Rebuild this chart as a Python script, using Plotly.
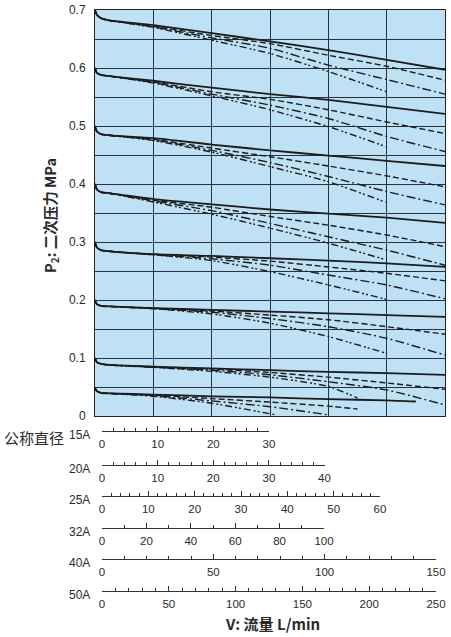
import plotly.graph_objects as go

# ---------------- data ----------------
# main-plot horizontal position in grid units (6 grid columns, no numeric labels)
FLOW_HEAD = [0, 0.03, 0.1, 0.25]
BODY_TO6 = [1, 2, 3, 4, 5, 6]
BODY_TO5 = [1, 2, 3, 4, 5]

# P2 set 0.7 MPa
P070_SOLID = [0.700, 0.692, 0.686, 0.682, 0.674, 0.660, 0.646, 0.631, 0.614, 0.597]
P070_DASH = [0.700, 0.692, 0.686, 0.682, 0.672, 0.656, 0.642, 0.622, 0.603, 0.579]
P070_DASHDOT = [0.700, 0.692, 0.686, 0.682, 0.671, 0.652, 0.634, 0.605, 0.580, 0.555]
P070_DDOT = [0.700, 0.692, 0.686, 0.682, 0.670, 0.648, 0.625, 0.594, 0.559]
# 0.6
P060_SOLID = [0.600, 0.592, 0.588, 0.586, 0.578, 0.566, 0.555, 0.545, 0.533, 0.521]
P060_DASH = [0.600, 0.592, 0.588, 0.586, 0.576, 0.559, 0.546, 0.528, 0.507, 0.487]
P060_DASHDOT = [0.600, 0.592, 0.588, 0.586, 0.575, 0.555, 0.536, 0.513, 0.482, 0.456]
P060_DDOT = [0.600, 0.592, 0.588, 0.586, 0.574, 0.552, 0.528, 0.499, 0.464]
# 0.5
P050_SOLID = [0.500, 0.491, 0.486, 0.484, 0.479, 0.468, 0.458, 0.449, 0.440, 0.431]
P050_DASH = [0.500, 0.491, 0.486, 0.484, 0.477, 0.462, 0.447, 0.431, 0.414, 0.395]
P050_DASHDOT = [0.500, 0.491, 0.486, 0.484, 0.476, 0.458, 0.437, 0.413, 0.387, 0.364]
P050_DDOT = [0.500, 0.491, 0.486, 0.484, 0.475, 0.455, 0.430, 0.404, 0.368]
# 0.4
P040_SOLID = [0.400, 0.391, 0.386, 0.384, 0.374, 0.365, 0.356, 0.349, 0.342, 0.333]
P040_DASH = [0.400, 0.391, 0.386, 0.384, 0.372, 0.360, 0.344, 0.329, 0.312, 0.292]
P040_DASHDOT = [0.400, 0.391, 0.386, 0.384, 0.371, 0.354, 0.332, 0.309, 0.286, 0.260]
P040_DDOT = [0.400, 0.391, 0.386, 0.384, 0.369, 0.348, 0.324, 0.298, 0.269]
# 0.3
P030_SOLID = [0.300, 0.291, 0.286, 0.284, 0.279, 0.276, 0.272, 0.268, 0.263, 0.257]
P030_DASH = [0.300, 0.291, 0.286, 0.284, 0.279, 0.274, 0.267, 0.257, 0.246, 0.233]
P030_DASHDOT = [0.300, 0.291, 0.286, 0.284, 0.278, 0.271, 0.260, 0.243, 0.226, 0.202]
P030_DDOT = [0.300, 0.291, 0.286, 0.284, 0.278, 0.268, 0.249, 0.226, 0.201]
# 0.2
P020_SOLID = [0.200, 0.193, 0.190, 0.189, 0.186, 0.183, 0.180, 0.177, 0.174, 0.171]
P020_DASH = [0.200, 0.193, 0.190, 0.189, 0.186, 0.181, 0.174, 0.166, 0.154, 0.141]
P020_DASHDOT = [0.200, 0.193, 0.190, 0.189, 0.185, 0.179, 0.168, 0.154, 0.134, 0.105]
P020_DDOT = [0.200, 0.193, 0.190, 0.189, 0.185, 0.176, 0.160, 0.137, 0.108]
# 0.1
P010_SOLID = [0.100, 0.093, 0.090, 0.088, 0.085, 0.082, 0.079, 0.076, 0.074, 0.071]
P010_DASH = [0.100, 0.093, 0.090, 0.088, 0.085, 0.081, 0.075, 0.067, 0.057, 0.046]
P010_DASHDOT = [0.100, 0.093, 0.090, 0.088, 0.084, 0.079, 0.071, 0.059, 0.045, 0.019]
P010_DDOT_X = [1, 2, 3, 4, 4.5]
P010_DDOT = [0.100, 0.093, 0.090, 0.088, 0.084, 0.077, 0.067, 0.051, 0.031]
# 0.05
P005_SOLID_X = [1, 2, 3, 4, 5, 5.5]
P005_SOLID = [0.048, 0.043, 0.040, 0.039, 0.037, 0.034, 0.032, 0.029, 0.027, 0.025]
P005_DASH_X = [1, 2, 3, 4, 4.5]
P005_DASH = [0.048, 0.043, 0.040, 0.039, 0.036, 0.030, 0.024, 0.017, 0.012]
P005_DASHDOT_X = [1, 2, 3, 4]
P005_DASHDOT = [0.048, 0.043, 0.040, 0.039, 0.035, 0.026, 0.016, 0.002]
P005_DDOT_X = [1, 2, 3.1]
P005_DDOT = [0.048, 0.043, 0.040, 0.039, 0.034, 0.022, 0.002]

Y_TICKS = [0, 0.1, 0.2, 0.3, 0.4, 0.5, 0.6, 0.7]
Y_TICK_LABELS = ["0", "0.1", "0.2", "0.3", "0.4", "0.5", "0.6", "0.7"]

SIZES = ["15A", "20A", "25A", "32A", "40A", "50A"]
AUX_MAX = [30, 40, 60, 100, 150, 250]
AUX_MAJOR = [10, 10, 10, 20, 50, 50]
AUX_MINOR = [2, 2, 2, 10, 10, 10]

Y_TITLE = "<b>P<sub>2</sub>: 二次压力 MPa</b>"
X_TITLE = "<b>V: 流量 L/min</b>"
SIZE_HEAD = "公称直径"

# ---------------- layout constants (pixels) ----------------
W, H = 451, 637
PLOT_L, PLOT_R, PLOT_T, PLOT_B = 95, 445, 10, 416
AUX_X0 = 102
AUX_END = [269, 324.5, 380, 324, 436, 436]
AUX_LINE_Y = [431, 465, 496, 528, 559, 591]

FONT = "Liberation Sans, Arial, Noto Sans CJK SC, sans-serif"
CJK = "Noto Sans CJK SC, Liberation Sans, sans-serif"
INK = "#1c1c1c"
TXT = "#2a2a2a"
BLUE = "#BFE1F6"
GRID = "#27323d"

def fx(p):
    return p / W

def fy(p):
    return 1 - p / H

STYLE = {
    "solid": dict(dash="solid", width=1.8),
    "dash": dict(dash="6px,3px", width=1.4),
    "dashdot": dict(dash="9px,3px,2px,3px", width=1.4),
    "ddot": dict(dash="7px,3px,2px,2px,2px,3px", width=1.4),
}

curves = [
    (FLOW_HEAD + BODY_TO6, P070_SOLID, "solid"),
    (FLOW_HEAD + BODY_TO6, P070_DASH, "dash"),
    (FLOW_HEAD + BODY_TO6, P070_DASHDOT, "dashdot"),
    (FLOW_HEAD + BODY_TO5, P070_DDOT, "ddot"),
    (FLOW_HEAD + BODY_TO6, P060_SOLID, "solid"),
    (FLOW_HEAD + BODY_TO6, P060_DASH, "dash"),
    (FLOW_HEAD + BODY_TO6, P060_DASHDOT, "dashdot"),
    (FLOW_HEAD + BODY_TO5, P060_DDOT, "ddot"),
    (FLOW_HEAD + BODY_TO6, P050_SOLID, "solid"),
    (FLOW_HEAD + BODY_TO6, P050_DASH, "dash"),
    (FLOW_HEAD + BODY_TO6, P050_DASHDOT, "dashdot"),
    (FLOW_HEAD + BODY_TO5, P050_DDOT, "ddot"),
    (FLOW_HEAD + BODY_TO6, P040_SOLID, "solid"),
    (FLOW_HEAD + BODY_TO6, P040_DASH, "dash"),
    (FLOW_HEAD + BODY_TO6, P040_DASHDOT, "dashdot"),
    (FLOW_HEAD + BODY_TO5, P040_DDOT, "ddot"),
    (FLOW_HEAD + BODY_TO6, P030_SOLID, "solid"),
    (FLOW_HEAD + BODY_TO6, P030_DASH, "dash"),
    (FLOW_HEAD + BODY_TO6, P030_DASHDOT, "dashdot"),
    (FLOW_HEAD + BODY_TO5, P030_DDOT, "ddot"),
    (FLOW_HEAD + BODY_TO6, P020_SOLID, "solid"),
    (FLOW_HEAD + BODY_TO6, P020_DASH, "dash"),
    (FLOW_HEAD + BODY_TO6, P020_DASHDOT, "dashdot"),
    (FLOW_HEAD + BODY_TO5, P020_DDOT, "ddot"),
    (FLOW_HEAD + BODY_TO6, P010_SOLID, "solid"),
    (FLOW_HEAD + BODY_TO6, P010_DASH, "dash"),
    (FLOW_HEAD + BODY_TO6, P010_DASHDOT, "dashdot"),
    (FLOW_HEAD + P010_DDOT_X, P010_DDOT, "ddot"),
    (FLOW_HEAD + P005_SOLID_X, P005_SOLID, "solid"),
    (FLOW_HEAD + P005_DASH_X, P005_DASH, "dash"),
    (FLOW_HEAD + P005_DASHDOT_X, P005_DASHDOT, "dashdot"),
    (FLOW_HEAD + P005_DDOT_X, P005_DDOT, "ddot"),
]

fig = go.Figure()

order = {"ddot": 0, "dashdot": 1, "dash": 2, "solid": 3}
for xs, ys, st in sorted(curves, key=lambda c: order[c[2]]):
    s = STYLE[st]
    fig.add_trace(go.Scatter(
        x=xs, y=ys, mode="lines", xaxis="x", yaxis="y",
        line=dict(color=INK, width=s["width"], dash=s["dash"], shape="spline", smoothing=0.6),
        showlegend=False, hoverinfo="skip",
    ))

# carrier traces for the nominal-size flow scales (own hidden y axis below the chart)
for i, mx in enumerate(AUX_MAX):
    fig.add_trace(go.Scatter(
        x=[0, mx], y=[0, 0], mode="markers", marker=dict(opacity=0, size=1),
        xaxis="x%d" % (i + 2), yaxis="y2", showlegend=False, hoverinfo="skip",
    ))

layout = dict(
    width=W, height=H,
    margin=dict(l=0, r=0, t=0, b=0, pad=0, autoexpand=False),
    paper_bgcolor="white",
    plot_bgcolor="rgba(0,0,0,0)",
    font=dict(family=FONT, color=TXT, size=12),
    xaxis=dict(
        domain=[fx(PLOT_L), fx(PLOT_R)], range=[0, 6], dtick=1, tick0=0,
        showgrid=True, gridcolor=GRID, gridwidth=1,
        showticklabels=False, ticks="", zeroline=False,
        showline=True, mirror=True, linecolor="#222", linewidth=1,
        fixedrange=True, anchor="y", automargin=False,
    ),
    yaxis=dict(
        domain=[fy(PLOT_B), fy(PLOT_T)], range=[0, 0.7], anchor="x",
        tickmode="array", tickvals=Y_TICKS, ticktext=Y_TICK_LABELS,
        showgrid=True, gridcolor=GRID, gridwidth=1,
        minor=dict(tickmode="linear", tick0=0, dtick=0.05, showgrid=True,
                   gridcolor=GRID, gridwidth=1, ticks=""),
        ticks="", ticklabelstandoff=6, zeroline=False,
        showline=True, mirror=True, linecolor="#222", linewidth=1,
        tickfont=dict(size=12, color=TXT, family=FONT),
        fixedrange=True, automargin=False,
    ),
    yaxis2=dict(
        domain=[0, 0.02], range=[0, 1], visible=False, showgrid=False,
        zeroline=False, fixedrange=True, anchor="free", position=0,
        automargin=False,
    ),
    shapes=[dict(
        type="rect", xref="x domain", yref="y domain", x0=0, x1=1, y0=0, y1=1,
        fillcolor=BLUE, line=dict(width=0), layer="below",
    )],
)

for i, mx in enumerate(AUX_MAX):
    layout["xaxis%d" % (i + 2)] = dict(
        domain=[fx(AUX_X0), fx(AUX_END[i])], range=[0, mx],
        anchor="free", position=fy(AUX_LINE_Y[i]), side="bottom",
        tickmode="linear", tick0=0, dtick=AUX_MAJOR[i],
        ticks="inside", ticklen=5, tickwidth=1, tickcolor="#333",
        minor=dict(tickmode="linear", tick0=0, dtick=AUX_MINOR[i],
                   ticks="inside", ticklen=3, tickwidth=1, tickcolor="#333", showgrid=False),
        showline=True, linecolor="#333", linewidth=1,
        showgrid=False, zeroline=False,
        tickfont=dict(size=11.5, color=TXT, family=FONT),
        ticklabelstandoff=2,
        fixedrange=True, automargin=False,
    )

annotations = []
annotations.append(dict(
    text=Y_TITLE, x=fx(50), y=fy(216), xref="paper", yref="paper",
    textangle=-90, showarrow=False, xanchor="center", yanchor="middle",
    font=dict(size=14.5, color=TXT, family=CJK),
))
annotations.append(dict(
    text=X_TITLE, x=fx(272), y=fy(623), xref="paper", yref="paper",
    showarrow=False, xanchor="center", yanchor="middle",
    font=dict(size=15, color=TXT, family=CJK),
))
annotations.append(dict(
    text=SIZE_HEAD, x=fx(2), y=fy(437), xref="paper", yref="paper",
    showarrow=False, xanchor="left", yanchor="middle",
    font=dict(size=15, color=TXT, family=CJK),
))
for i, name in enumerate(SIZES):
    annotations.append(dict(
        text=name, x=fx(92), y=fy(AUX_LINE_Y[i] + 4), xref="paper", yref="paper",
        showarrow=False, xanchor="right", yanchor="middle",
        font=dict(size=12, color=TXT, family=FONT),
    ))
layout["annotations"] = annotations

fig.update_layout(**layout)
fig.write_html(
    "out.html",
    config={"displayModeBar": False, "staticPlot": True},
    post_script="document.body.style.margin='0px';document.body.style.padding='0px';",
)
